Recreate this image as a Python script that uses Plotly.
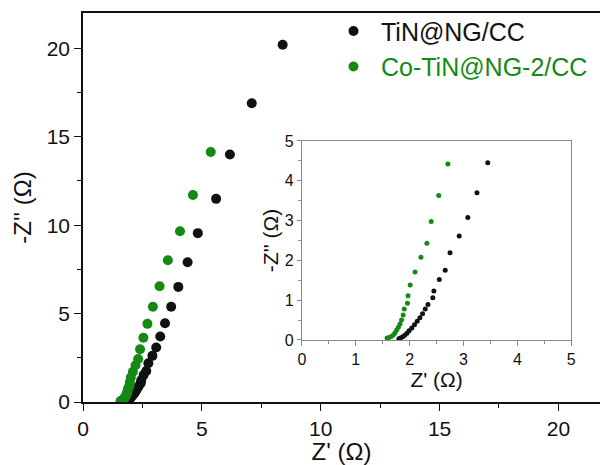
import plotly.graph_objects as go

# TiN@NG/CC (black)
tin_x = [8.40, 7.10, 6.18, 5.60, 4.83, 4.40, 4.01, 3.71, 3.45, 3.25, 3.08, 2.92, 2.75, 2.66,
         2.55, 2.45, 2.43, 2.34, 2.29, 2.24, 2.19, 2.14, 2.09, 2.04, 1.99, 1.95, 1.91, 1.87, 1.83, 1.80]
tin_y = [20.2, 16.9, 14.0, 11.49, 9.55, 7.90, 6.51, 5.39, 4.45, 3.70, 3.08, 2.61, 2.19, 1.75,
         1.52, 1.23, 1.06, 0.89, 0.78, 0.66, 0.56, 0.47, 0.38, 0.30, 0.23, 0.17, 0.12, 0.08, 0.05, 0.03]
# Co-TiN@NG-2/CC (green)
co_x = [5.375, 4.625, 4.08, 3.57, 3.22, 2.94, 2.71, 2.54, 2.40, 2.32, 2.21, 2.10, 2.01, 1.97,
        1.96, 1.90, 1.88, 1.85, 1.82, 1.79, 1.76, 1.73, 1.70, 1.66, 1.62, 1.58]
co_y = [14.14, 11.71, 9.66, 8.02, 6.55, 5.39, 4.42, 3.63, 2.98, 2.43, 2.08, 1.71, 1.38, 1.11,
        0.92, 0.78, 0.63, 0.50, 0.40, 0.32, 0.25, 0.18, 0.13, 0.09, 0.06, 0.05]

main_xticks = [0, 5, 10, 15, 20]
main_yticks = [0, 5, 10, 15, 20]
inset_ticks = [0, 1, 2, 3, 4, 5]

BLACK = "#111111"
GREEN = "#148a14"
FONT = "Arial, Liberation Sans, sans-serif"

fig = go.Figure()
fig.add_trace(go.Scatter(x=tin_x, y=tin_y, mode="markers", name="TiN@NG/CC",
                         marker=dict(color=BLACK, size=10), xaxis="x", yaxis="y"))
fig.add_trace(go.Scatter(x=co_x, y=co_y, mode="markers",
                         name="<span style='color:%s'>Co-TiN@NG-2/CC</span>" % GREEN,
                         marker=dict(color=GREEN, size=10), xaxis="x", yaxis="y"))
fig.add_trace(go.Scatter(x=tin_x, y=tin_y, mode="markers", showlegend=False,
                         marker=dict(color=BLACK, size=5), xaxis="x2", yaxis="y2"))
fig.add_trace(go.Scatter(x=co_x, y=co_y, mode="markers", showlegend=False,
                         marker=dict(color=GREEN, size=5), xaxis="x2", yaxis="y2"))

fig.update_layout(
    width=605, height=465,
    margin=dict(l=83, r=0, t=13, b=63),
    plot_bgcolor="white", paper_bgcolor="white",
    font=dict(family=FONT, color=BLACK),
    showlegend=True,
    legend=dict(x=0.47, y=1.012, xanchor="left", yanchor="top",
                font=dict(size=25, family=FONT, color=BLACK),
                bgcolor="rgba(0,0,0,0)", itemsizing="trace", tracegroupgap=0,
                itemwidth=45),
    xaxis=dict(domain=[0, 1], range=[0, 21.75], tickvals=main_xticks,
               showline=True, linecolor=BLACK, linewidth=1.5, mirror=True,
               ticks="outside", ticklen=7, tickwidth=1.3, tickcolor=BLACK,
               minor=dict(dtick=2.5, ticks="outside", ticklen=4, tickwidth=1.2, tickcolor=BLACK),
               showgrid=False, zeroline=False,
               tickfont=dict(size=21, family=FONT),
               title=dict(text="Z' (Ω)", font=dict(size=24, family=FONT), standoff=2)),
    yaxis=dict(domain=[0, 1], range=[0, 22], tickvals=main_yticks,
               showline=True, linecolor=BLACK, linewidth=1.5,
               ticks="outside", ticklen=7, tickwidth=1.3, tickcolor=BLACK,
               minor=dict(dtick=2.5, ticks="outside", ticklen=4, tickwidth=1.2, tickcolor=BLACK),
               showgrid=False, zeroline=False,
               tickfont=dict(size=21, family=FONT),
               title=dict(text="-Z'' (Ω)", font=dict(size=24, family=FONT), standoff=8)),
    xaxis2=dict(domain=[0.4234, 0.9444], anchor="y2", range=[0, 5], tickvals=inset_ticks,
                showline=True, linecolor="#8a8a8a", linewidth=1.3, mirror=True,
                ticks="outside", ticklen=5, tickwidth=1, tickcolor="#8a8a8a",
                minor=dict(dtick=0.5, ticks="outside", ticklen=3, tickwidth=1, tickcolor="#8a8a8a"),
                showgrid=False, zeroline=False,
                tickfont=dict(size=16, family=FONT),
                title=dict(text="Z' (Ω)", font=dict(size=21, family=FONT), standoff=0)),
    yaxis2=dict(domain=[0.1594, 0.671], anchor="x2", range=[0, 5], tickvals=inset_ticks,
                showline=True, linecolor="#8a8a8a", linewidth=1.3, mirror=True,
                ticks="outside", ticklen=4, tickwidth=1, tickcolor="#8a8a8a",
                minor=dict(dtick=0.5, ticks="outside", ticklen=3, tickwidth=1, tickcolor="#8a8a8a"),
                showgrid=False, zeroline=False,
                tickfont=dict(size=16, family=FONT),
                title=dict(text="-Z'' (Ω)", font=dict(size=21, family=FONT), standoff=0)),
)

fig.write_html("out.html")
